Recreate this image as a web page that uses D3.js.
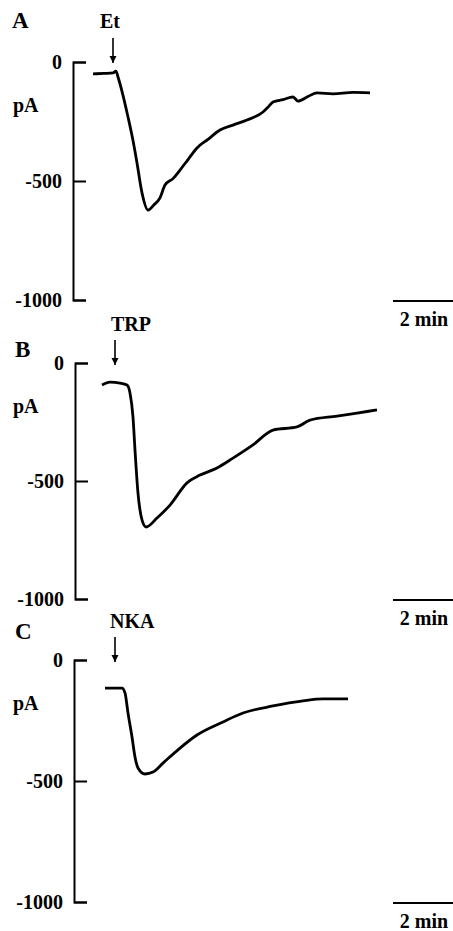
<!DOCTYPE html>
<html>
<head>
<meta charset="utf-8">
<script src="https://cdn.jsdelivr.net/npm/d3@7"></script>
<style>
  body { margin: 0; background: #fff; }
  text { font-family: "Liberation Serif", "Times New Roman", serif; font-weight: bold; fill: #000; }
</style>
</head>
<body>
<svg id="chart" width="453" height="931"></svg>
<script>
// traces: time in seconds, current in pA
var timeA = [40, 62, 80, 86, 90, 100, 110, 120, 128, 138, 150, 162, 174, 184, 200, 214, 230, 248, 270, 294, 320, 348, 380, 390, 400, 420, 440, 450, 470, 488, 520, 560, 594];
var currentA = [-50, -48, -46, -38, -63, -140, -231, -330, -424, -550, -622, -600, -571, -517, -490, -454, -410, -361, -325, -286, -265, -244, -210, -190, -168, -158, -147, -164, -145, -130, -134, -128, -130];

var timeB = [58, 74, 94, 108, 114, 120, 124, 130, 138, 146, 168, 194, 228, 254, 288, 320, 360, 400, 448, 474, 528, 568, 608];
var currentB = [-93, -81, -85, -93, -127, -229, -369, -551, -665, -695, -657, -602, -508, -475, -445, -403, -347, -284, -271, -242, -225, -212, -199];

var timeC = [64, 98, 104, 110, 118, 124, 130, 144, 160, 180, 214, 248, 300, 340, 400, 460, 500, 550];
var currentC = [-116, -116, -136, -219, -318, -401, -446, -471, -463, -426, -364, -310, -256, -219, -190, -169, -161, -161];

var panelNames = ["A", "B", "C"];
var stimNames = ["Et", "TRP", "NKA"];
var stimTimes = [80, 84, 84];
var yTicks = [0, -500, -1000];
var scaleBarStart = 640, scaleBarLen = 120; // 2 min

// layout (pixels) for each panel
var layout = [
  {top: 62,  bottom: 300, axisX: 73, letter: [12, 28],  stim: [110, 28, "middle"], arrow: [38, 63]},
  {top: 363, bottom: 599, axisX: 75, letter: [15, 357], stim: [111, 331, "start"], arrow: [340, 365]},
  {top: 660, bottom: 902, axisX: 74, letter: [15, 639], stim: [110, 628, "start"], arrow: [637, 662]}
];

var svg = d3.select("#chart");

var x = d3.scaleLinear().domain([0, 760]).range([73, 453]);

var traces = [
  d3.zip(timeA, currentA),
  d3.zip(timeB, currentB),
  d3.zip(timeC, currentC)
];

svg.append("defs").append("marker")
  .attr("id", "head")
  .attr("viewBox", "0 0 10 10")
  .attr("refX", 10).attr("refY", 5)
  .attr("markerWidth", 7).attr("markerHeight", 8)
  .attr("markerUnits", "userSpaceOnUse")
  .attr("orient", "auto")
  .append("path").attr("d", "M0,0L10,5L0,10Z").attr("fill", "#000");

traces.forEach(function(data, i) {
  var L = layout[i];
  var y = d3.scaleLinear().domain([-1000, 0]).range([L.bottom, L.top]);
  var g = svg.append("g");

  // y axis bracket, ticks pointing into the plot
  var axis = d3.axisLeft(y).tickValues(yTicks).tickSize(-13).tickPadding(11).tickFormat(d3.format("d"));
  var ax = g.append("g").attr("transform", "translate(" + L.axisX + ",0)").call(axis);
  ax.selectAll("path, line").attr("stroke", "#000").attr("stroke-width", 2);
  ax.selectAll("text")
    .style("font-family", "'Liberation Serif', serif")
    .style("font-weight", "bold")
    .style("font-size", "20px")
    .text(function(d) { return d === 0 ? "0" : "-" + Math.abs(d); });

  g.append("text").attr("x", 13).attr("y", L.top + 50).style("font-size", "20px").text("pA");
  g.append("text").attr("x", L.letter[0]).attr("y", L.letter[1]).style("font-size", "23px").text(panelNames[i]);

  // stimulus label + arrow
  g.append("text").attr("x", L.stim[0]).attr("y", L.stim[1])
    .attr("text-anchor", L.stim[2]).style("font-size", "20px").text(stimNames[i]);
  g.append("line")
    .attr("x1", x(stimTimes[i])).attr("x2", x(stimTimes[i]))
    .attr("y1", L.arrow[0]).attr("y2", L.arrow[1])
    .attr("stroke", "#000").attr("stroke-width", 1.6)
    .attr("marker-end", "url(#head)");

  // current trace
  var line = d3.line()
    .x(function(d) { return x(d[0]); })
    .y(function(d) { return y(d[1]); })
    .curve(d3.curveMonotoneX);
  g.append("path").datum(data)
    .attr("d", line)
    .attr("fill", "none")
    .attr("stroke", "#000")
    .attr("stroke-width", 2.8)
    .attr("stroke-linejoin", "round");

  // 2 min scale bar
  var by = y(-1000) + 1;
  g.append("line")
    .attr("x1", x(scaleBarStart)).attr("x2", x(scaleBarStart + scaleBarLen))
    .attr("y1", by).attr("y2", by)
    .attr("stroke", "#000").attr("stroke-width", 2);
  g.append("text")
    .attr("x", x(scaleBarStart + scaleBarLen / 2) + 1).attr("y", by + 25)
    .attr("text-anchor", "middle").style("font-size", "20px").text("2 min");
});
</script>
</body>
</html>
